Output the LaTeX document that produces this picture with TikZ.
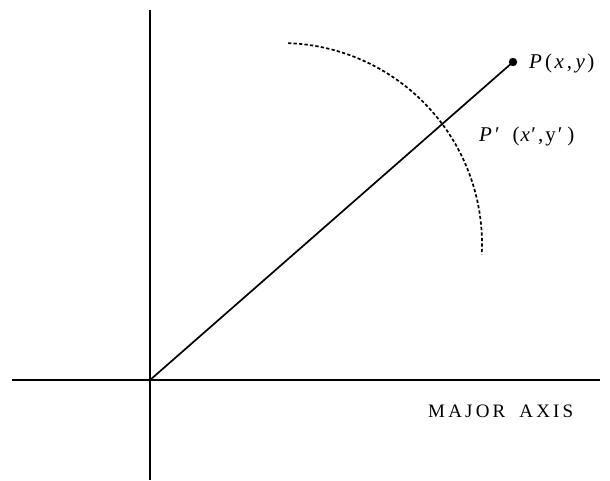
\documentclass[tikz,border=0pt]{standalone}
\usepackage{fontspec}
\setmainfont{Liberation Serif}
\tikzset{
  axis/.style={line width=1.8pt},
  radius line/.style={line width=1.7pt},
  rot arc/.style={line width=1.7pt, dash pattern=on 3.3pt off 2.2pt},
  lbl/.style={inner sep=0pt, anchor=base west, font=\fontsize{21}{25}\selectfont},
}
\begin{document}
\begin{tikzpicture}[x=1pt,y=-1pt]
\useasboundingbox (0,0) rectangle (610,480);
\coordinate (O) at (150,380);
\coordinate (vtop) at (150,10);
\coordinate (vbot) at (150,480);
\coordinate (hl) at (12,380);
\coordinate (hr) at (600,380);
\coordinate (P) at (513,62);
\coordinate (C) at (281,244);
\draw[axis] (vtop) -- (vbot);
\draw[axis] (hl) -- (hr);
\draw[radius line] (O) -- (P);
\fill (P) circle (4.2);
\draw[rot arc] (C) ++(-88:201) arc[start angle=-88, end angle=3, radius=201];
\node[lbl] (pl) at (529,68) {\textit{P}\kern3pt(\kern2.5pt\textit{x}\kern3pt,\kern3.5pt\textit{y}\kern2.5pt)};
\node[lbl] (ppl) at (479,141) {\textit{P}\kern3pt′\kern13pt(\kern1pt\textit{x}\kern1.5pt′\kern2pt,\kern2pt y\kern2pt′\kern5pt)};
\node[lbl, font=\fontsize{19}{22}\selectfont] (maj) at (428,417) {M\kern3.2ptA\kern3.2ptJ\kern3.2ptO\kern3.2ptR\kern14ptA\kern3.2ptX\kern3.2ptI\kern3.2ptS};
\end{tikzpicture}
\end{document}
